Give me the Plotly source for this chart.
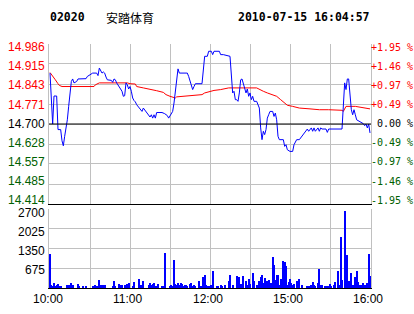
import plotly.graph_objects as go

# ---------------- data ----------------
prev_close = 14.700
stock_code = "02020"
stock_name = "安踏体育"
timestamp = "2010-07-15 16:04:57"

# trading minutes since 10:00 (10:00-12:30, 14:30-16:00 => 0..240)
price_min = [0, 1, 2, 3, 5, 6, 8, 9, 10, 11, 12, 13, 14, 15, 16, 17, 18, 20, 21, 27, 28, 30, 32, 35, 36, 37,
             38, 39, 40, 41, 42, 43, 46, 47, 48, 49, 50, 52, 54, 55, 56, 57, 58, 59, 60, 61, 62, 63, 64, 65,
             67, 68, 69, 70, 72, 73, 74, 75, 76, 77, 78, 79, 80, 84, 86, 88, 89, 91, 92, 93, 94, 95, 96, 97,
             103, 104, 105, 106, 107, 108, 109, 114, 115, 116, 118, 119, 121, 122, 123, 127, 128, 130, 135,
             136, 137, 138, 139, 140, 141, 142, 143, 144, 145, 146, 147, 148, 149, 150, 151, 152, 153, 155,
             156, 157, 158, 159, 160, 161, 162, 163, 164, 165, 167, 168, 169, 170, 171, 172, 175, 176, 177,
             178, 180, 182, 183, 185, 187, 190, 192, 193, 194, 196, 197, 198, 199, 201, 202, 203, 204, 207,
             208, 209, 219, 220, 221, 222, 223, 224, 225, 226, 227, 228, 229, 230, 234, 235, 236, 237, 238,
             239, 240]
price_val = [14.882, 14.793, 14.700, 14.800, 14.800, 14.680, 14.680, 14.640, 14.622, 14.656, 14.686, 14.715,
             14.763, 14.823, 14.852, 14.861, 14.847, 14.852, 14.861, 14.862, 14.870, 14.876, 14.882, 14.882,
             14.873, 14.900, 14.888, 14.882, 14.886, 14.882, 14.868, 14.858, 14.856, 14.849, 14.861, 14.858,
             14.847, 14.834, 14.817, 14.799, 14.801, 14.847, 14.840, 14.825, 14.834, 14.817, 14.793, 14.784,
             14.779, 14.769, 14.757, 14.751, 14.745, 14.757, 14.745, 14.739, 14.733, 14.725, 14.733, 14.721,
             14.733, 14.721, 14.741, 14.741, 14.737, 14.730, 14.721, 14.737, 14.745, 14.775, 14.811, 14.847,
             14.897, 14.882, 14.882, 14.870, 14.852, 14.840, 14.823, 14.834, 14.844, 14.844, 14.906, 14.942,
             14.942, 14.960, 14.960, 14.948, 14.960, 14.960, 14.948, 14.948, 14.942, 14.870, 14.811, 14.817,
             14.787, 14.787, 14.781, 14.811, 14.858, 14.861, 14.847, 14.829, 14.811, 14.825, 14.799, 14.811,
             14.787, 14.799, 14.781, 14.781, 14.769, 14.757, 14.686, 14.644, 14.674, 14.662, 14.680, 14.721,
             14.733, 14.745, 14.745, 14.727, 14.739, 14.715, 14.656, 14.644, 14.644, 14.620, 14.626, 14.608,
             14.602, 14.602, 14.626, 14.644, 14.644, 14.662, 14.674, 14.682, 14.674, 14.686, 14.674, 14.686,
             14.674, 14.686, 14.674, 14.686, 14.682, 14.682, 14.670, 14.682, 14.682, 14.760, 14.847, 14.823,
             14.861, 14.861, 14.799, 14.751, 14.733, 14.751, 14.733, 14.715, 14.704, 14.701, 14.694, 14.700,
             14.686, 14.700, 14.668, 14.686]

avg_min = [0, 2, 3, 4, 6, 7, 9, 33, 34, 37, 58, 60, 64, 65, 70, 75, 80, 85, 87, 90, 94, 95, 99, 106, 114,
           116, 120, 123, 128, 130, 134, 155, 157, 160, 163, 170, 173, 176, 178, 182, 187, 195, 202, 209,
           219, 220, 221, 222, 229, 234, 240]
avg_val = [14.884, 14.873, 14.864, 14.858, 14.844, 14.838, 14.834, 14.834, 14.840, 14.847, 14.847, 14.844,
           14.843, 14.834, 14.829, 14.825, 14.819, 14.813, 14.805, 14.799, 14.793, 14.797, 14.799, 14.801,
           14.805, 14.811, 14.817, 14.820, 14.823, 14.825, 14.829, 14.829, 14.823, 14.817, 14.811, 14.799,
           14.787, 14.775, 14.767, 14.763, 14.757, 14.754, 14.751, 14.751, 14.749, 14.745, 14.757, 14.763,
           14.763, 14.760, 14.754]

vol_min = [0, 1, 2, 3, 4, 5, 6, 7, 8, 13, 14, 15, 16, 17, 21, 22, 25, 27, 32, 33, 34, 35, 37, 38, 39, 40,
           41, 47, 48, 49, 52, 53, 54, 56, 57, 58, 59, 62, 63, 67, 68, 69, 70, 74, 75, 76, 77, 78, 79, 80,
           81, 84, 85, 86, 90, 91, 92, 93, 94, 95, 96, 97, 98, 99, 100, 101, 102, 103, 105, 106, 107, 108,
           109, 112, 113, 115, 116, 117, 118, 119, 121, 122, 125, 126, 128, 129, 131, 134, 135, 137, 140,
           141, 142, 143, 145, 147, 148, 149, 150, 152, 153, 155, 157, 158, 159, 160, 161, 163, 164, 165,
           166, 167, 168, 169, 170, 171, 172, 173, 174, 175, 176, 177, 178, 179, 180, 181, 182, 183, 185,
           186, 187, 189, 193, 194, 196, 197, 198, 199, 201, 202, 203, 204, 206, 208, 209, 210, 211, 213,
           214, 216, 217, 218, 219, 221, 222, 223, 224, 225, 226, 227, 229, 230, 231, 232, 233, 235, 236,
           238, 239, 240]
vol_val = [1173, 114, 80, 171, 80, 114, 137, 80, 80, 114, 114, 80, 171, 114, 148, 80, 80, 80, 80, 80, 114,
           80, 285, 114, 57, 114, 114, 80, 250, 80, 148, 91, 114, 114, 80, 137, 171, 80, 205, 319, 114, 80,
           250, 114, 171, 114, 148, 171, 80, 80, 148, 80, 80, 1207, 80, 114, 80, 968, 148, 114, 171, 114,
           171, 148, 80, 114, 114, 80, 148, 171, 80, 114, 80, 250, 80, 364, 456, 114, 80, 80, 114, 570, 80,
           80, 114, 80, 114, 250, 456, 114, 399, 114, 364, 148, 421, 250, 114, 319, 148, 513, 228, 114, 250,
           364, 456, 171, 342, 228, 285, 114, 171, 1048, 797, 285, 433, 433, 114, 319, 148, 934, 888, 740,
           114, 205, 319, 171, 114, 148, 250, 57, 319, 114, 80, 80, 114, 205, 114, 80, 171, 661, 114, 114,
           80, 80, 80, 148, 80, 114, 205, 570, 114, 1731, 285, 2620, 1139, 1139, 250, 171, 524, 114, 364,
           592, 205, 114, 114, 171, 114, 171, 1162, 421]

price_ticks = [14.986, 14.915, 14.843, 14.771, 14.700, 14.628, 14.557, 14.485, 14.414]
pct_ticks = ["+1.95 %", "+1.46 %", "+0.97 %", "+0.49 %", " 0.00 %", "-0.49 %", "-0.97 %", "-1.46 %", "-1.95 %"]
vol_ticks = [2700, 2025, 1350, 675]
time_ticks = [0, 60, 120, 180, 240]
time_labels = ["10:00", "11:00", "12:00", "15:00", "16:00"]
grid_minutes = [30, 60, 90, 120, 150, 180, 210]

# ---------------- style ----------------
BLUE = "#0000ff"
RED = "#ff0000"
GREEN = "#006000"
GRID = "#c0c0c0"
LABEL_FONT = "Liberation Sans, Arial, sans-serif"
MONO = "DejaVu Sans Mono, monospace"

fig = go.Figure()
fig.add_trace(go.Bar(x=vol_min, y=vol_val, xaxis="x2", yaxis="y2", width=0.7,
                     marker=dict(color=BLUE, line=dict(width=0)), showlegend=False, hoverinfo="skip"))
fig.add_trace(go.Scatter(x=avg_min, y=avg_val, mode="lines", line=dict(color=RED, width=1),
                         showlegend=False, hoverinfo="skip"))
fig.add_trace(go.Scatter(x=price_min, y=price_val, mode="lines", line=dict(color=BLUE, width=1),
                         showlegend=False, hoverinfo="skip"))

xr = [-0.75, 240.75]
common_x = dict(range=xr, tickvals=grid_minutes, showticklabels=False, ticks="", showgrid=True,
                gridcolor=GRID, gridwidth=1, zeroline=False, showline=True, linecolor="black",
                linewidth=1, fixedrange=True)

fig.update_layout(
    width=414, height=314,
    margin=dict(l=49, r=43, t=44, b=26, pad=0),
    paper_bgcolor="white", plot_bgcolor="white",
    bargap=0,
    xaxis=dict(domain=[0, 1], anchor="y", **common_x),
    xaxis2=dict(domain=[0, 1], anchor="y2", matches="x", **common_x),
    yaxis=dict(domain=[0.3443, 1], range=[price_ticks[-1], price_ticks[0]], tickvals=price_ticks,
               showticklabels=False, ticks="", showgrid=True, gridcolor=GRID, gridwidth=1,
               zeroline=False, showline=True, mirror=True, linecolor=GRID, linewidth=1),
    yaxis2=dict(domain=[0, 0.3238], range=[0, vol_ticks[0]], tickvals=[0] + vol_ticks[::-1],
                showticklabels=False, ticks="", showgrid=True, gridcolor=GRID, gridwidth=1,
                zeroline=False, showline=True, mirror=True, linecolor=GRID, linewidth=1),
)

# previous close reference line
fig.add_shape(type="line", xref="x domain", yref="y", x0=0, x1=1, y0=prev_close, y1=prev_close,
              line=dict(color="black", width=1))

ann = []
n = len(price_ticks)
for i, (p, t) in enumerate(zip(price_ticks, pct_ticks)):
    col = RED if p > prev_close + 1e-9 else (GREEN if p < prev_close - 1e-9 else "black")
    ys = -3.2 + i * 7.0 / (n - 1)
    ann.append(dict(x=0, xref="paper", y=p, yref="y", text=f"{p:.3f}", showarrow=False,
                    xanchor="right", yanchor="middle", xshift=-4.5, yshift=ys,
                    font=dict(family=LABEL_FONT, size=12, color=col), borderpad=0, borderwidth=0))
    ann.append(dict(x=1, xref="paper", y=p, yref="y", text=t.replace(" ", "&nbsp;"), showarrow=False,
                    xanchor="left", yanchor="middle", xshift=0, yshift=ys,
                    font=dict(family=MONO, size=10, color=col), borderpad=0, borderwidth=0))

vol_shift = [-4.5, -3, -2.5, -1.8]
for v, s in zip(vol_ticks, vol_shift):
    ann.append(dict(x=0, xref="paper", y=v, yref="y2", text=str(v), showarrow=False,
                    xanchor="right", yanchor="middle", xshift=-4.5, yshift=s,
                    font=dict(family=LABEL_FONT, size=12, color="black"), borderpad=0, borderwidth=0))

for m, lab in zip(time_ticks, time_labels):
    ann.append(dict(x=m, xref="x2", y=0, yref="paper", text=lab, showarrow=False,
                    xanchor="center", yanchor="middle", xshift=-2.5, yshift=-10.5,
                    font=dict(family=LABEL_FONT, size=12, color="black"), borderpad=0, borderwidth=0))

# header
ann.append(dict(x=(50 - 49) / 322, xref="paper", y=(288 - 17) / 244, yref="paper", text=f"<b>{stock_code}</b>",
                showarrow=False, xanchor="left", yanchor="middle",
                font=dict(family=MONO, size=11.5, color="black"), borderpad=0, borderwidth=0))
ann.append(dict(x=(106 - 49) / 322, xref="paper", y=(288 - 17) / 244, yref="paper", text=stock_name,
                showarrow=False, xanchor="left", yanchor="middle",
                font=dict(family="Noto Sans CJK SC", size=12, color="black"), borderpad=0, borderwidth=0))
ann.append(dict(x=(369.5 - 49) / 322, xref="paper", y=(288 - 17) / 244, yref="paper", text=f"<b>{timestamp}</b>",
                showarrow=False, xanchor="right", yanchor="middle",
                font=dict(family=MONO, size=11.5, color="black"), borderpad=0, borderwidth=0))

fig.update_layout(annotations=ann)
fig.write_html("out.html", config={"displayModeBar": False})
